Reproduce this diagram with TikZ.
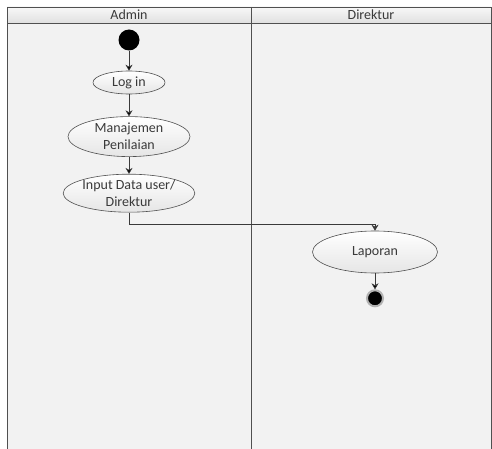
\documentclass[tikz,border=0pt]{standalone}
\usepackage{fontspec}
\setmainfont{Carlito}
\usetikzlibrary{arrows.meta,positioning,shapes.geometric}

\definecolor{lanebg}{HTML}{F2F2F2}
\definecolor{framecol}{HTML}{505050}
\definecolor{inkcol}{HTML}{3A3A3A}

\tikzset{
    activity/.style={ellipse, draw=framecol, line width=0.6pt, top color=white,
        bottom color=black!10, text=inkcol, inner sep=0pt, align=center,
        font=\fontsize{14}{17}\selectfont},
    startstate/.style={circle, fill=black, inner sep=0pt, minimum size=21pt},
    endstate/.style={circle, fill=black, draw=black!30, line width=2pt,
        inner sep=0pt, minimum size=16pt},
    lanehead/.style={text=inkcol, font=\fontsize{14}{16}\selectfont},
    flow/.style={->, draw=inkcol, line width=0.6pt}
}

\begin{document}
\begin{tikzpicture}[x=1pt, y=-1pt, >={Stealth[length=6pt,width=7pt]}, node distance=20pt]
    \useasboundingbox (0,0) rectangle (492,449);

    % Swimlanes
    \fill [lanebg] (7,23) rectangle (491,449);
    \shade [top color=black!3, bottom color=black!12] (7,7) rectangle (491,23);
    \draw [framecol, line width=0.8pt] (7,449) -- (7,7) -- (491,7) -- (491,449);
    \draw [framecol, line width=0.8pt] (7,23) -- (491,23);
    \draw [framecol, line width=0.8pt] (251,7) -- (251,449);
    \node [lanehead] (admin)    at (129,15) {Admin};
    \node [lanehead] (direktur) at (371,15) {Direktur};

    % Nodes {start, login, manajemen, input, laporan, end}
    \node [startstate] (start) at (129,40) {};
    \node [activity, minimum width=72pt, minimum height=23pt]  (login)     [below=of start]     {Log in};
    \node [activity, minimum width=122pt, minimum height=40pt] (manajemen) [below=22pt of login] {Manajemen\\Penilaian};
    \node [activity, minimum width=124pt, minimum height=38pt] (input)     [below=17pt of manajemen] {Input Data user/\\Direktur};
    \node [activity, minimum width=125pt, minimum height=42pt] (laporan)   at (375,252)         {Laporan};
    \node [endstate] (end) [below=16pt of laporan] {};

    % Paths
    \path [flow] (start) edge (login);
    \path [flow] (login) edge (manajemen);
    \path [flow] (manajemen) edge (input);
    \draw [flow] (input.south) -- ++(0,12) -| (laporan.north);
    \path [flow] (laporan) edge (end);

\end{tikzpicture}
\end{document}
